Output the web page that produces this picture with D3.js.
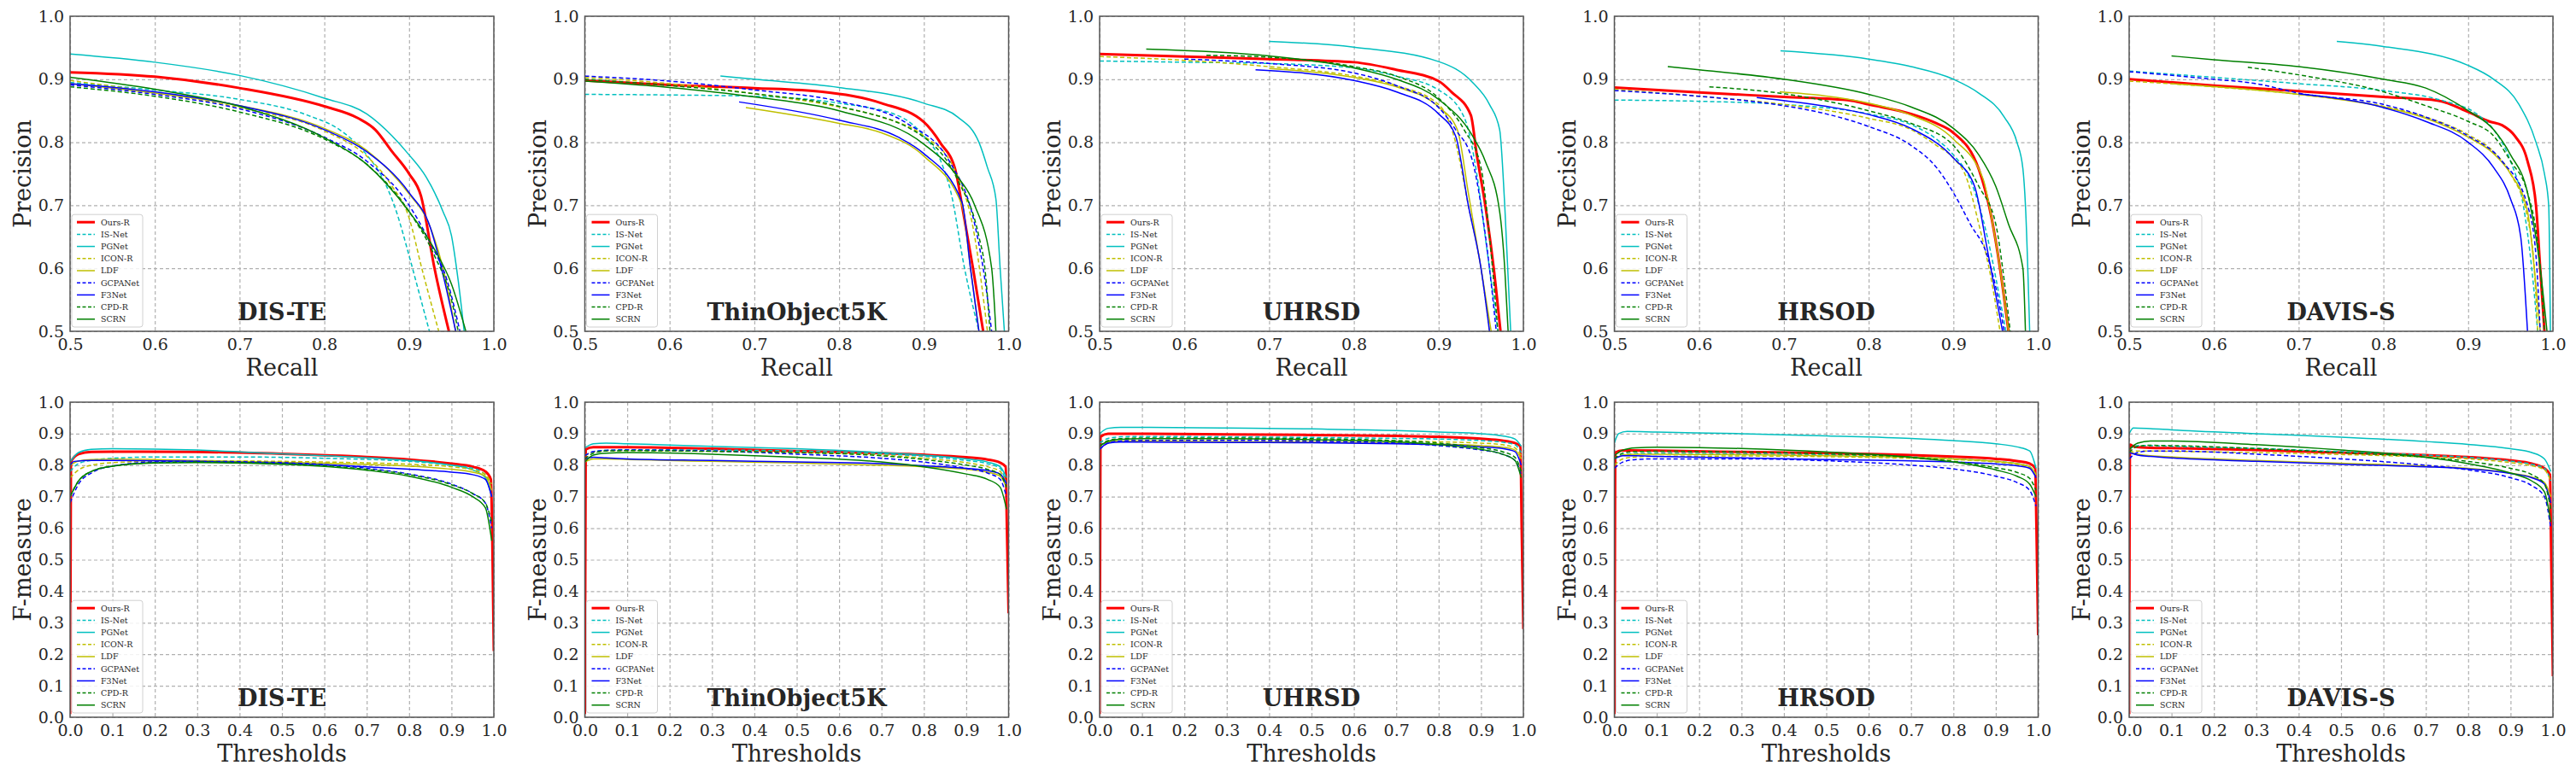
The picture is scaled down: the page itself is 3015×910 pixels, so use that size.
<!DOCTYPE html>
<html>
<head>
<meta charset="utf-8">
<script src="https://cdn.jsdelivr.net/npm/d3@7"></script>
<style>
  body { margin: 0; background: #fff; }
  text { font-family: "DejaVu Serif", serif; fill: #262626; }
</style>
</head>
<body>
<svg id="chart" width="3015" height="910"></svg>
<script>
var datasets = ["DIS-TE", "ThinObject5K", "UHRSD", "HRSOD", "DAVIS-S"];
var methods = ["Ours-R", "IS-Net", "PGNet", "ICON-R", "LDF", "GCPANet", "F3Net", "CPD-R", "SCRN"];
var colors = ["#ff0000", "#00bfbf", "#00bfbf", "#bfbf00", "#bfbf00", "#0000ff", "#0000ff", "#008000", "#008000"];
var dashed = [false, true, false, true, false, true, false, true, false];
var prTicks = [0.5, 0.6, 0.7, 0.8, 0.9, 1.0];
var fmTicks = [0.0, 0.1, 0.2, 0.3, 0.4, 0.5, 0.6, 0.7, 0.8, 0.9, 1.0];

// precision-recall curves, [recall, precision], methods in the order above
var prDIS = [
  [[0.5,0.911],[0.6,0.904],[0.7,0.886],[0.8,0.857],[0.84,0.838],[0.86,0.82],[0.88,0.785],[0.9,0.75],[0.914,0.715],[0.93,0.6],[0.947,0.5]],
  [[0.5,0.895],[0.6,0.883],[0.7,0.868],[0.78,0.843],[0.82,0.818],[0.85,0.78],[0.87,0.74],[0.885,0.69],[0.9,0.62],[0.912,0.56],[0.924,0.5]],
  [[0.5,0.94],[0.6,0.927],[0.7,0.906],[0.8,0.87],[0.85,0.845],[0.88,0.81],[0.9,0.78],[0.92,0.745],[0.94,0.69],[0.95,0.652],[0.958,0.58],[0.965,0.5]],
  [[0.5,0.898],[0.6,0.879],[0.7,0.855],[0.8,0.818],[0.85,0.778],[0.88,0.73],[0.9,0.68],[0.915,0.6],[0.935,0.5]],
  [[0.5,0.893],[0.6,0.878],[0.7,0.858],[0.8,0.822],[0.85,0.787],[0.9,0.718],[0.922,0.675],[0.94,0.6],[0.955,0.5]],
  [[0.5,0.891],[0.6,0.876],[0.7,0.853],[0.8,0.808],[0.85,0.77],[0.9,0.7],[0.925,0.64],[0.945,0.58],[0.96,0.5]],
  [[0.5,0.893],[0.6,0.88],[0.7,0.858],[0.8,0.82],[0.85,0.785],[0.9,0.72],[0.925,0.665],[0.94,0.59],[0.955,0.5]],
  [[0.5,0.888],[0.6,0.873],[0.7,0.848],[0.8,0.805],[0.85,0.765],[0.9,0.69],[0.93,0.62],[0.95,0.55],[0.958,0.5]],
  [[0.5,0.903],[0.6,0.884],[0.7,0.857],[0.8,0.807],[0.85,0.765],[0.9,0.69],[0.93,0.63],[0.95,0.575],[0.967,0.5]]
];
var prThin = [
  [[0.5,0.898],[0.6,0.891],[0.7,0.886],[0.78,0.88],[0.85,0.862],[0.9,0.832],[0.92,0.798],[0.937,0.757],[0.945,0.7],[0.958,0.6],[0.97,0.5]],
  [[0.5,0.876],[0.6,0.875],[0.7,0.873],[0.8,0.862],[0.87,0.842],[0.9,0.81],[0.92,0.77],[0.932,0.72],[0.948,0.6],[0.965,0.5]],
  [[0.66,0.905],[0.7,0.9],[0.8,0.887],[0.9,0.862],[0.94,0.84],[0.965,0.8],[0.975,0.76],[0.985,0.71],[0.99,0.6],[0.995,0.5]],
  [[0.5,0.903],[0.6,0.893],[0.7,0.877],[0.8,0.856],[0.85,0.84],[0.9,0.81],[0.935,0.76],[0.96,0.65],[0.975,0.5]],
  [[0.69,0.855],[0.8,0.83],[0.85,0.815],[0.9,0.778],[0.945,0.7],[0.955,0.6],[0.965,0.5]],
  [[0.5,0.905],[0.6,0.897],[0.7,0.883],[0.8,0.865],[0.88,0.83],[0.93,0.77],[0.96,0.67],[0.97,0.6],[0.98,0.5]],
  [[0.682,0.864],[0.8,0.835],[0.87,0.808],[0.9,0.782],[0.945,0.705],[0.955,0.6],[0.965,0.5]],
  [[0.5,0.9],[0.6,0.89],[0.7,0.877],[0.8,0.857],[0.9,0.808],[0.94,0.74],[0.965,0.65],[0.972,0.6],[0.978,0.5]],
  [[0.5,0.897],[0.6,0.887],[0.7,0.872],[0.8,0.85],[0.9,0.797],[0.94,0.745],[0.96,0.7],[0.98,0.6],[0.985,0.5]]
];
var prUHRSD = [
  [[0.5,0.94],[0.6,0.936],[0.7,0.932],[0.8,0.927],[0.85,0.915],[0.9,0.897],[0.915,0.88],[0.938,0.843],[0.945,0.78],[0.955,0.7],[0.965,0.6],[0.973,0.5]],
  [[0.5,0.929],[0.6,0.927],[0.7,0.925],[0.8,0.918],[0.85,0.905],[0.9,0.883],[0.93,0.84],[0.945,0.75],[0.955,0.65],[0.97,0.5]],
  [[0.7,0.96],[0.8,0.951],[0.9,0.928],[0.94,0.895],[0.96,0.86],[0.972,0.82],[0.978,0.7],[0.985,0.5]],
  [[0.5,0.936],[0.6,0.93],[0.7,0.92],[0.8,0.905],[0.85,0.89],[0.9,0.86],[0.91,0.84],[0.92,0.8],[0.935,0.7],[0.95,0.6],[0.96,0.5]],
  [[0.7,0.917],[0.8,0.903],[0.85,0.888],[0.9,0.856],[0.922,0.82],[0.935,0.72],[0.95,0.6],[0.962,0.5]],
  [[0.6,0.932],[0.7,0.925],[0.8,0.91],[0.85,0.89],[0.9,0.855],[0.92,0.82],[0.94,0.77],[0.95,0.7],[0.96,0.6],[0.968,0.5]],
  [[0.684,0.915],[0.8,0.898],[0.85,0.88],[0.9,0.845],[0.92,0.81],[0.935,0.7],[0.95,0.6],[0.96,0.5]],
  [[0.626,0.938],[0.7,0.935],[0.8,0.92],[0.85,0.905],[0.9,0.87],[0.93,0.82],[0.95,0.76],[0.96,0.65],[0.97,0.5]],
  [[0.555,0.948],[0.7,0.937],[0.8,0.918],[0.85,0.9],[0.9,0.868],[0.94,0.81],[0.955,0.77],[0.972,0.69],[0.978,0.6],[0.982,0.5]]
];
var prHRSOD = [
  [[0.5,0.887],[0.6,0.879],[0.7,0.872],[0.78,0.866],[0.8,0.86],[0.85,0.845],[0.88,0.83],[0.9,0.815],[0.93,0.757],[0.945,0.68],[0.955,0.6],[0.965,0.5]],
  [[0.5,0.867],[0.6,0.865],[0.7,0.86],[0.8,0.845],[0.85,0.828],[0.88,0.805],[0.9,0.78],[0.92,0.74],[0.94,0.65],[0.955,0.55],[0.962,0.5]],
  [[0.696,0.945],[0.8,0.932],[0.85,0.92],[0.9,0.9],[0.93,0.878],[0.96,0.84],[0.975,0.8],[0.982,0.758],[0.985,0.7],[0.99,0.5]],
  [[0.5,0.884],[0.6,0.873],[0.7,0.86],[0.8,0.838],[0.85,0.82],[0.88,0.795],[0.9,0.775],[0.915,0.745],[0.93,0.67],[0.945,0.58],[0.955,0.5]],
  [[0.695,0.88],[0.8,0.862],[0.85,0.843],[0.9,0.805],[0.935,0.742],[0.945,0.68],[0.955,0.6],[0.965,0.5]],
  [[0.5,0.882],[0.6,0.873],[0.7,0.858],[0.75,0.845],[0.8,0.825],[0.85,0.795],[0.88,0.76],[0.9,0.72],[0.92,0.67],[0.94,0.62],[0.95,0.57],[0.96,0.5]],
  [[0.668,0.871],[0.75,0.857],[0.8,0.844],[0.85,0.822],[0.9,0.775],[0.925,0.73],[0.94,0.63],[0.958,0.5]],
  [[0.612,0.888],[0.7,0.877],[0.8,0.85],[0.85,0.83],[0.9,0.795],[0.93,0.73],[0.95,0.67],[0.96,0.58],[0.967,0.5]],
  [[0.563,0.92],[0.6,0.915],[0.7,0.9],[0.8,0.876],[0.85,0.856],[0.9,0.822],[0.93,0.78],[0.95,0.73],[0.965,0.67],[0.982,0.6],[0.985,0.5]]
];
var prDAVIS = [
  [[0.5,0.9],[0.6,0.89],[0.7,0.881],[0.8,0.872],[0.865,0.866],[0.9,0.848],[0.925,0.833],[0.94,0.827],[0.955,0.81],[0.97,0.77],[0.98,0.7],[0.985,0.6],[0.99,0.5]],
  [[0.5,0.913],[0.6,0.903],[0.7,0.893],[0.8,0.882],[0.87,0.866],[0.91,0.845],[0.93,0.82],[0.95,0.77],[0.965,0.7],[0.975,0.6],[0.982,0.5]],
  [[0.745,0.96],[0.8,0.952],[0.9,0.922],[0.93,0.9],[0.96,0.86],[0.98,0.8],[0.99,0.75],[0.995,0.7],[0.997,0.5]],
  [[0.5,0.897],[0.6,0.888],[0.7,0.876],[0.8,0.857],[0.85,0.84],[0.9,0.812],[0.93,0.785],[0.95,0.75],[0.97,0.68],[0.978,0.6],[0.982,0.5]],
  [[0.55,0.893],[0.7,0.876],[0.8,0.856],[0.85,0.838],[0.9,0.808],[0.93,0.782],[0.95,0.75],[0.97,0.69],[0.978,0.6],[0.985,0.5]],
  [[0.5,0.912],[0.6,0.9],[0.65,0.893],[0.7,0.878],[0.8,0.86],[0.85,0.84],[0.9,0.81],[0.94,0.77],[0.97,0.7],[0.98,0.62],[0.985,0.5]],
  [[0.7,0.877],[0.8,0.855],[0.85,0.833],[0.9,0.8],[0.93,0.76],[0.95,0.71],[0.962,0.65],[0.97,0.5]],
  [[0.64,0.919],[0.7,0.907],[0.8,0.88],[0.85,0.858],[0.9,0.833],[0.93,0.81],[0.95,0.77],[0.97,0.72],[0.985,0.6],[0.99,0.5]],
  [[0.55,0.937],[0.6,0.931],[0.7,0.92],[0.8,0.9],[0.85,0.886],[0.9,0.85],[0.93,0.82],[0.95,0.78],[0.97,0.72],[0.985,0.6],[0.993,0.5]]
];

// F-measure against threshold, [threshold, F]
var fmDIS = [
  [[0,0.01],[0.002,0.81],[0.02,0.835],[0.05,0.842],[0.1,0.843],[0.3,0.842],[0.5,0.836],[0.7,0.826],[0.8,0.818],[0.9,0.805],[0.95,0.795],[0.98,0.78],[0.993,0.755],[0.996,0.6],[1.0,0.21]],
  [[0,0.78],[0.02,0.805],[0.05,0.815],[0.1,0.822],[0.2,0.826],[0.4,0.826],[0.6,0.822],[0.8,0.812],[0.9,0.8],[0.95,0.79],[0.98,0.77],[0.995,0.72]],
  [[0,0.81],[0.02,0.84],[0.05,0.85],[0.1,0.852],[0.2,0.851],[0.3,0.848],[0.5,0.836],[0.7,0.824],[0.8,0.815],[0.9,0.8],[0.95,0.785],[0.98,0.76],[0.995,0.7]],
  [[0,0.76],[0.02,0.785],[0.05,0.8],[0.1,0.808],[0.2,0.812],[0.4,0.813],[0.6,0.81],[0.8,0.803],[0.9,0.795],[0.95,0.785],[0.98,0.77],[0.995,0.74]],
  [[0,0.8],[0.02,0.813],[0.05,0.818],[0.1,0.819],[0.2,0.818],[0.4,0.812],[0.6,0.806],[0.8,0.797],[0.9,0.787],[0.95,0.778],[0.98,0.765],[0.995,0.72]],
  [[0,0.68],[0.02,0.74],[0.05,0.775],[0.1,0.797],[0.2,0.81],[0.3,0.812],[0.5,0.808],[0.7,0.79],[0.8,0.772],[0.9,0.74],[0.95,0.71],[0.98,0.68],[0.995,0.6]],
  [[0,0.8],[0.01,0.812],[0.05,0.815],[0.1,0.815],[0.3,0.812],[0.5,0.806],[0.7,0.795],[0.8,0.787],[0.9,0.778],[0.95,0.77],[0.98,0.755],[0.995,0.7]],
  [[0,0.7],[0.02,0.75],[0.05,0.78],[0.1,0.797],[0.2,0.808],[0.3,0.81],[0.5,0.805],[0.7,0.787],[0.8,0.77],[0.9,0.738],[0.95,0.71],[0.98,0.68],[0.995,0.62]],
  [[0,0.7],[0.02,0.75],[0.05,0.78],[0.1,0.797],[0.2,0.807],[0.3,0.808],[0.5,0.803],[0.7,0.784],[0.8,0.765],[0.9,0.73],[0.95,0.7],[0.98,0.665],[0.995,0.56]]
];
var fmThin = [
  [[0,0.01],[0.002,0.85],[0.02,0.857],[0.1,0.857],[0.3,0.852],[0.5,0.845],[0.7,0.838],[0.8,0.833],[0.9,0.825],[0.95,0.818],[0.98,0.808],[0.993,0.795],[0.996,0.6],[1.0,0.33]],
  [[0,0.83],[0.02,0.843],[0.05,0.847],[0.1,0.849],[0.3,0.848],[0.5,0.845],[0.7,0.836],[0.8,0.828],[0.9,0.815],[0.95,0.805],[0.98,0.79],[0.995,0.74]],
  [[0,0.855],[0.02,0.868],[0.05,0.87],[0.1,0.868],[0.3,0.86],[0.5,0.852],[0.7,0.84],[0.8,0.832],[0.9,0.82],[0.95,0.81],[0.98,0.795],[0.995,0.76]],
  [[0,0.83],[0.02,0.842],[0.05,0.845],[0.1,0.846],[0.3,0.844],[0.5,0.84],[0.7,0.832],[0.8,0.822],[0.9,0.808],[0.95,0.795],[0.98,0.78],[0.995,0.74]],
  [[0,0.81],[0.02,0.82],[0.05,0.82],[0.1,0.818],[0.3,0.812],[0.5,0.807],[0.7,0.8],[0.8,0.795],[0.9,0.787],[0.95,0.778],[0.98,0.765],[0.995,0.73]],
  [[0,0.83],[0.02,0.843],[0.05,0.847],[0.1,0.848],[0.3,0.845],[0.5,0.835],[0.7,0.822],[0.8,0.81],[0.9,0.79],[0.95,0.775],[0.98,0.755],[0.995,0.7]],
  [[0,0.82],[0.02,0.825],[0.05,0.823],[0.1,0.82],[0.3,0.815],[0.5,0.81],[0.7,0.805],[0.8,0.798],[0.9,0.79],[0.95,0.783],[0.98,0.772],[0.995,0.74]],
  [[0,0.82],[0.02,0.838],[0.05,0.845],[0.1,0.846],[0.3,0.844],[0.5,0.84],[0.7,0.83],[0.8,0.818],[0.9,0.8],[0.95,0.787],[0.98,0.77],[0.995,0.73]],
  [[0,0.81],[0.02,0.832],[0.05,0.838],[0.1,0.84],[0.3,0.835],[0.5,0.825],[0.7,0.81],[0.8,0.795],[0.9,0.772],[0.95,0.755],[0.98,0.73],[0.995,0.66]]
];
var fmUHRSD = [
  [[0,0.01],[0.002,0.89],[0.02,0.9],[0.1,0.9],[0.3,0.898],[0.5,0.896],[0.7,0.893],[0.8,0.89],[0.9,0.884],[0.95,0.878],[0.98,0.87],[0.993,0.86],[0.996,0.6],[1.0,0.28]],
  [[0,0.87],[0.02,0.885],[0.05,0.89],[0.1,0.891],[0.3,0.89],[0.5,0.888],[0.7,0.885],[0.8,0.883],[0.9,0.878],[0.95,0.873],[0.98,0.865],[0.995,0.84]],
  [[0,0.9],[0.02,0.917],[0.05,0.92],[0.1,0.92],[0.3,0.918],[0.5,0.915],[0.7,0.91],[0.8,0.905],[0.9,0.9],[0.95,0.893],[0.98,0.883],[0.995,0.86]],
  [[0,0.85],[0.02,0.87],[0.05,0.876],[0.1,0.878],[0.3,0.88],[0.5,0.879],[0.7,0.877],[0.8,0.874],[0.9,0.87],[0.95,0.865],[0.98,0.855],[0.995,0.83]],
  [[0,0.86],[0.02,0.874],[0.05,0.877],[0.1,0.877],[0.3,0.875],[0.5,0.873],[0.7,0.87],[0.8,0.867],[0.9,0.862],[0.95,0.857],[0.98,0.848],[0.995,0.82]],
  [[0,0.85],[0.02,0.87],[0.05,0.877],[0.1,0.879],[0.3,0.879],[0.5,0.876],[0.7,0.87],[0.8,0.862],[0.9,0.848],[0.95,0.835],[0.98,0.815],[0.995,0.77]],
  [[0,0.85],[0.02,0.87],[0.05,0.873],[0.1,0.873],[0.3,0.872],[0.5,0.871],[0.7,0.868],[0.8,0.865],[0.9,0.858],[0.95,0.853],[0.98,0.843],[0.995,0.8]],
  [[0,0.86],[0.02,0.878],[0.05,0.884],[0.1,0.886],[0.3,0.886],[0.5,0.884],[0.7,0.878],[0.8,0.87],[0.9,0.855],[0.95,0.843],[0.98,0.825],[0.995,0.78]],
  [[0,0.86],[0.02,0.876],[0.05,0.882],[0.1,0.884],[0.3,0.884],[0.5,0.881],[0.7,0.874],[0.8,0.865],[0.9,0.85],[0.95,0.835],[0.98,0.815],[0.995,0.76]]
];
var fmHRSOD = [
  [[0,0.01],[0.002,0.84],[0.02,0.847],[0.1,0.846],[0.3,0.842],[0.5,0.838],[0.7,0.832],[0.8,0.827],[0.9,0.82],[0.95,0.813],[0.98,0.805],[0.993,0.79],[0.996,0.6],[1.0,0.26]],
  [[0,0.82],[0.02,0.833],[0.05,0.837],[0.1,0.838],[0.3,0.836],[0.5,0.832],[0.7,0.826],[0.8,0.82],[0.9,0.812],[0.95,0.805],[0.98,0.795],[0.995,0.77]],
  [[0,0.87],[0.01,0.9],[0.03,0.907],[0.1,0.905],[0.3,0.9],[0.5,0.893],[0.7,0.885],[0.8,0.878],[0.9,0.868],[0.95,0.858],[0.98,0.845],[0.995,0.79]],
  [[0,0.8],[0.02,0.82],[0.05,0.826],[0.1,0.828],[0.3,0.829],[0.5,0.827],[0.7,0.822],[0.8,0.818],[0.9,0.81],[0.95,0.802],[0.98,0.793],[0.995,0.77]],
  [[0,0.82],[0.02,0.832],[0.05,0.835],[0.1,0.835],[0.3,0.833],[0.5,0.83],[0.7,0.825],[0.8,0.82],[0.9,0.812],[0.95,0.805],[0.98,0.795],[0.995,0.77]],
  [[0,0.79],[0.02,0.81],[0.05,0.818],[0.1,0.82],[0.3,0.82],[0.5,0.814],[0.7,0.8],[0.8,0.788],[0.9,0.765],[0.95,0.745],[0.98,0.72],[0.995,0.67]],
  [[0,0.82],[0.02,0.83],[0.05,0.83],[0.1,0.828],[0.3,0.823],[0.5,0.818],[0.7,0.814],[0.8,0.81],[0.9,0.804],[0.95,0.798],[0.98,0.79],[0.995,0.76]],
  [[0,0.82],[0.02,0.838],[0.05,0.843],[0.1,0.844],[0.3,0.842],[0.5,0.836],[0.7,0.825],[0.8,0.812],[0.9,0.792],[0.95,0.777],[0.98,0.758],[0.995,0.72]],
  [[0,0.83],[0.02,0.848],[0.05,0.855],[0.1,0.857],[0.2,0.856],[0.3,0.853],[0.5,0.842],[0.7,0.825],[0.8,0.81],[0.9,0.785],[0.95,0.765],[0.98,0.74],[0.995,0.7]]
];
var fmDAVIS = [
  [[0,0.01],[0.002,0.865],[0.01,0.86],[0.05,0.855],[0.1,0.854],[0.3,0.848],[0.5,0.84],[0.7,0.832],[0.8,0.826],[0.9,0.815],[0.95,0.805],[0.98,0.79],[0.993,0.77],[0.996,0.5],[1.0,0.13]],
  [[0,0.85],[0.02,0.862],[0.05,0.862],[0.1,0.86],[0.3,0.853],[0.5,0.843],[0.7,0.832],[0.8,0.825],[0.9,0.813],[0.95,0.803],[0.98,0.79],[0.995,0.75]],
  [[0,0.9],[0.01,0.918],[0.05,0.916],[0.1,0.912],[0.3,0.9],[0.5,0.889],[0.7,0.875],[0.8,0.866],[0.9,0.852],[0.95,0.84],[0.98,0.82],[0.995,0.78]],
  [[0,0.84],[0.02,0.845],[0.05,0.845],[0.1,0.844],[0.3,0.84],[0.5,0.834],[0.7,0.826],[0.8,0.82],[0.9,0.808],[0.95,0.798],[0.98,0.785],[0.995,0.75]],
  [[0,0.84],[0.02,0.835],[0.05,0.83],[0.1,0.826],[0.3,0.815],[0.5,0.806],[0.7,0.797],[0.8,0.79],[0.9,0.775],[0.95,0.762],[0.98,0.745],[0.995,0.7]],
  [[0,0.82],[0.02,0.84],[0.05,0.845],[0.1,0.845],[0.3,0.835],[0.5,0.82],[0.7,0.8],[0.8,0.785],[0.9,0.76],[0.95,0.735],[0.98,0.7],[0.995,0.6]],
  [[0,0.84],[0.02,0.832],[0.05,0.828],[0.1,0.823],[0.3,0.812],[0.5,0.803],[0.7,0.795],[0.8,0.788],[0.9,0.774],[0.95,0.76],[0.98,0.74],[0.995,0.68]],
  [[0,0.84],[0.02,0.86],[0.05,0.863],[0.1,0.862],[0.3,0.853],[0.5,0.84],[0.7,0.825],[0.8,0.812],[0.9,0.79],[0.95,0.77],[0.98,0.74],[0.995,0.66]],
  [[0,0.85],[0.02,0.87],[0.05,0.877],[0.1,0.877],[0.3,0.865],[0.5,0.848],[0.7,0.825],[0.8,0.805],[0.9,0.775],[0.95,0.75],[0.98,0.715],[0.995,0.62]]
];

var prAll = [prDIS, prThin, prUHRSD, prHRSOD, prDAVIS];
var fmAll = [fmDIS, fmThin, fmUHRSD, fmHRSOD, fmDAVIS];

// layout
var colLeft = 82, colStep = 602.5;
var plotW = 496, plotH = 369;
var rowTop = [19, 471];

var svg = d3.select("#chart");

function drawPanel(id, left, top, series, domain, ticks, xLabel, yLabel, title) {
  var g = svg.append("g").attr("transform", "translate(" + left + "," + top + ")");

  var x = d3.scaleLinear().domain(domain).range([0, plotW]);
  var y = d3.scaleLinear().domain(domain).range([plotH, 0]);

  g.append("clipPath").attr("id", id)
    .append("rect").attr("width", plotW).attr("height", plotH);

  // grid
  g.append("g")
    .call(d3.axisBottom(x).tickValues(ticks).tickSize(plotH).tickFormat(""))
    .call(s => s.select(".domain").remove())
    .call(s => s.selectAll("line").attr("stroke", "#b0b0b0").attr("stroke-width", 1.2).attr("stroke-dasharray", "4,3"));
  g.append("g")
    .call(d3.axisLeft(y).tickValues(ticks).tickSize(-plotW).tickFormat(""))
    .call(s => s.select(".domain").remove())
    .call(s => s.selectAll("line").attr("stroke", "#b0b0b0").attr("stroke-width", 1.2).attr("stroke-dasharray", "4,3"));

  // curves
  var line = d3.line()
    .x(d => x(d[0]))
    .y(d => y(d[1]))
    .curve(d3.curveMonotoneX);

  var curves = g.append("g").attr("clip-path", "url(#" + id + ")");
  series.forEach(function(pts, i) {
    curves.append("path")
      .attr("d", line(pts))
      .attr("fill", "none")
      .attr("stroke", colors[i])
      .attr("stroke-width", i == 0 ? 3 : 1.5)
      .attr("stroke-dasharray", dashed[i] ? "5,3" : null);
  });

  // frame
  g.append("rect")
    .attr("width", plotW).attr("height", plotH)
    .attr("fill", "none").attr("stroke", "#555").attr("stroke-width", 1.5);

  // tick labels
  var fmt = d3.format(".1f");
  g.append("g").attr("transform", "translate(0," + plotH + ")")
    .call(d3.axisBottom(x).tickValues(ticks).tickSize(0).tickPadding(8.5).tickFormat(fmt))
    .call(s => s.select(".domain").remove())
    .call(s => s.selectAll("text").attr("font-size", 19).attr("font-family", "DejaVu Serif").attr("fill", "#262626"));
  g.append("g")
    .call(d3.axisLeft(y).tickValues(ticks).tickSize(0).tickPadding(7).tickFormat(fmt))
    .call(s => s.select(".domain").remove())
    .call(s => s.selectAll("text").attr("font-size", 19).attr("font-family", "DejaVu Serif").attr("fill", "#262626"));

  // axis labels
  g.append("text")
    .attr("x", plotW / 2).attr("y", plotH + 52)
    .attr("text-anchor", "middle").attr("font-size", 27)
    .text(xLabel);
  g.append("text")
    .attr("transform", "translate(-46," + (plotH / 2) + ") rotate(-90)")
    .attr("text-anchor", "middle").attr("font-size", 27)
    .text(yLabel);

  // dataset name
  g.append("text")
    .attr("x", plotW / 2).attr("y", plotH - 13)
    .attr("text-anchor", "middle").attr("font-size", 27).attr("font-weight", "bold")
    .attr("fill", "#111")
    .text(title);

  // legend
  var rowH = 14.2;
  var boxH = methods.length * rowH + 4;
  var leg = g.append("g").attr("transform", "translate(2," + (plotH - 5 - boxH) + ")");
  leg.append("rect")
    .attr("width", 83).attr("height", boxH).attr("rx", 3)
    .attr("fill", "#fff").attr("fill-opacity", 0.85)
    .attr("stroke", "#d0d0d0").attr("stroke-width", 1);
  methods.forEach(function(m, i) {
    var cy = 9 + i * rowH;
    leg.append("line")
      .attr("x1", 6).attr("x2", 27).attr("y1", cy).attr("y2", cy)
      .attr("stroke", colors[i])
      .attr("stroke-width", i == 0 ? 3 : 1.5)
      .attr("stroke-dasharray", dashed[i] ? "4,2.5" : null);
    leg.append("text")
      .attr("x", 34).attr("y", cy + 3.5)
      .attr("font-size", 9.5).attr("fill", "#333")
      .text(m);
  });
}

datasets.forEach(function(name, k) {
  var left = colLeft + k * colStep;
  drawPanel("clipPR" + k, left, rowTop[0], prAll[k], [0.5, 1.0], prTicks, "Recall", "Precision", name);
  drawPanel("clipFM" + k, left, rowTop[1], fmAll[k], [0.0, 1.0], fmTicks, "Thresholds", "F-measure", name);
});
</script>
</body>
</html>
